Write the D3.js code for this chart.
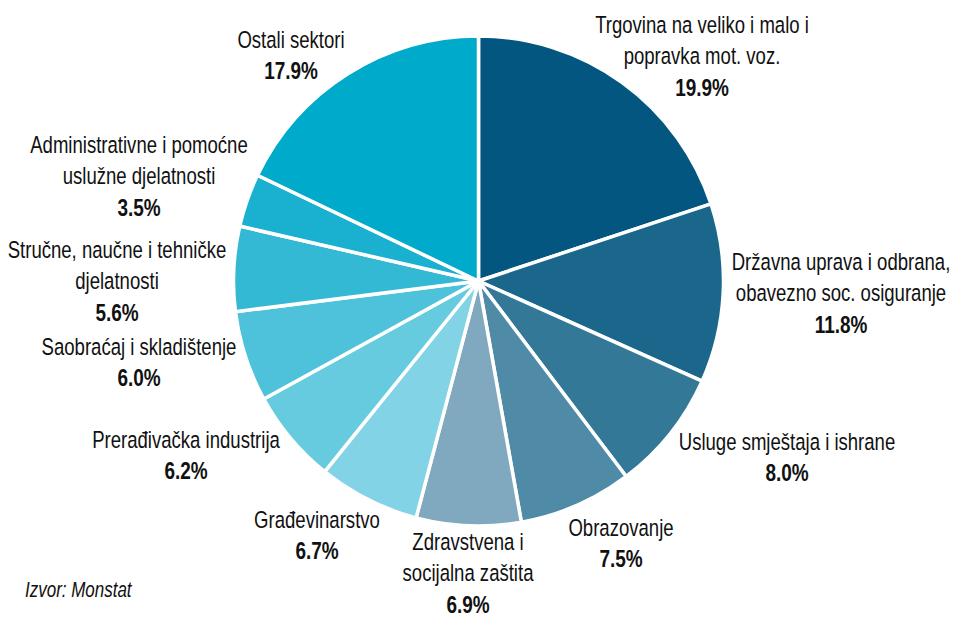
<!DOCTYPE html>
<html>
<head>
<meta charset="utf-8">
<script src="https://cdn.jsdelivr.net/npm/d3@7"></script>
<style>
  body { margin: 0; background: #fff; }
  svg { display: block; }
  text { font-family: "Liberation Sans Narrow", "Liberation Sans", sans-serif; fill: #111; }
</style>
</head>
<body>
<svg id="chart" width="953" height="619"></svg>
<script>
// podaci - struktura zaposlenih po sektorima (%)
var sectors = [
  ["Trgovina na veliko i malo i", "popravka mot. voz."],
  ["Državna uprava i odbrana,", "obavezno soc. osiguranje"],
  ["Usluge smještaja i ishrane"],
  ["Obrazovanje"],
  ["Zdravstvena i", "socijalna zaštita"],
  ["Građevinarstvo"],
  ["Prerađivačka industrija"],
  ["Saobraćaj i skladištenje"],
  ["Stručne, naučne i tehničke", "djelatnosti"],
  ["Administrativne i pomoćne", "uslužne djelatnosti"],
  ["Ostali sektori"]
];
var shares = [19.9, 11.8, 8.0, 7.5, 6.9, 6.7, 6.2, 6.0, 5.6, 3.5, 17.9];
var colors = ["#03567f", "#1b678b", "#347898", "#4f8aa6", "#80a9bf", "#81d3e5",
              "#67cbdf", "#4dc2da", "#33b9d4", "#1ab1d0", "#00aacb"];
var source = "Izvor: Monstat";

var svg = d3.select("#chart");
var cx = 478.5, cy = 281, radius = 245;

// mjesta natpisa (centar, baseline prvog reda)
var labelPos = [
  [702, 33], [841, 270], [787, 450], [621, 536], [468, 550], [317, 528],
  [186, 448], [139, 355], [117, 258], [139, 153], [291, 48]
];
var lineH = 31.5;
var squeeze = 0.79; // font je uzak (condensed), pa sabijamo po x

var pie = d3.pie().sort(null).value(function(d) { return d; });
var arc = d3.arc().innerRadius(0).outerRadius(radius);
var color = d3.scaleOrdinal().domain(d3.range(shares.length)).range(colors);

var g = svg.append("g").attr("transform", "translate(" + cx + "," + cy + ")");

g.selectAll("path")
  .data(pie(shares))
  .enter()
  .append("path")
  .attr("d", arc)
  .style("fill", function(d, i) { return color(i); })
  .style("stroke", "#fff")
  .style("stroke-width", 3.5)
  .style("stroke-linejoin", "round");

// natpisi
var labels = svg.append("g")
  .selectAll("text")
  .data(sectors)
  .enter()
  .append("text")
  .attr("text-anchor", "middle")
  .attr("font-size", 23.5)
  .attr("transform", function(d, i) {
    return "translate(" + labelPos[i][0] + "," + labelPos[i][1] + ") scale(" + squeeze + ",1)";
  });

labels.each(function(d, i) {
  var t = d3.select(this);
  d.forEach(function(line, k) {
    t.append("tspan").attr("x", 0).attr("y", k * lineH).text(line);
  });
  t.append("tspan")
    .attr("x", 0)
    .attr("y", d.length * lineH)
    .attr("font-weight", "bold")
    .attr("font-size", 24)
    .text(shares[i].toFixed(1) + "%");
});

svg.append("text")
  .attr("transform", "translate(25,597) scale(" + squeeze + ",1)")
  .attr("font-size", 21.5)
  .attr("font-style", "italic")
  .text(source);
</script>
</body>
</html>
